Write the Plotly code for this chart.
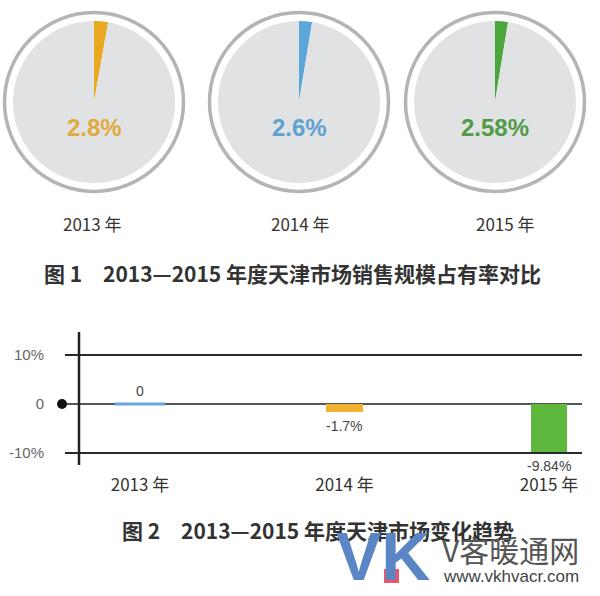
import plotly.graph_objects as go

# ---------------- data ----------------
years = ["2013 年", "2014 年", "2015 年"]
share = [2.8, 2.6, 2.58]                 # market share (%)
share_labels = ["2.8%", "2.6%", "2.58%"]
change = [0, -1.7, -9.84]                # yearly change (%)
change_labels = ["0", "-1.7%", "-9.84%"]
y_tickvals = [-10, 0, 10]
y_ticktext = ["-10%", "0", "10%"]
caption1_no = "图 1"
caption1 = "2013—2015 年度天津市场销售规模占有率对比"
caption2_no = "图 2"
caption2 = "2013—2015 年度天津市场变化趋势"

# ---------------- styles ----------------
W, H = 600, 596
slice_colors = ["#e8a920", "#5ba6d8", "#4ba63b"]
label_colors = ["#e2aa3c", "#5ea2d2", "#4f9b46"]
bar_colors = ["#6aa6dc", "#f0b232", "#5db83d"]
disc_color = "#e1e2e4"
ring_color = "#b4b4b4"
pie_cx = [94, 299, 495]
pie_cy = 102
pie_r = 81
ring_r = 89.5
cjk = "Noto Sans CJK SC"
cap_color = "#333333"


def px(x):
    return x / W


def py(y):
    return 1 - y / H


fig = go.Figure()

# ---------------- pies ----------------
for i in range(len(share)):
    cx = pie_cx[i]
    fig.add_trace(go.Pie(
        values=[share[i], 100 - share[i]],
        marker=dict(colors=[slice_colors[i], disc_color], line=dict(width=0)),
        sort=False, direction="clockwise", rotation=0,
        textinfo="none", hoverinfo="skip", showlegend=False,
        domain=dict(x=[px(cx - pie_r), px(cx + pie_r)],
                    y=[py(pie_cy + pie_r), py(pie_cy - pie_r)]),
    ))
    fig.add_shape(type="circle", xref="paper", yref="paper",
                  xsizemode="pixel", ysizemode="pixel",
                  xanchor=px(cx), yanchor=py(pie_cy),
                  x0=-ring_r, x1=ring_r, y0=-ring_r, y1=ring_r,
                  line=dict(color=ring_color, width=3.5), layer="below")
    fig.add_annotation(x=px(cx), y=py(pie_cy + 25), xref="paper", yref="paper",
                       text="<b>%s</b>" % share_labels[i], showarrow=False,
                       font=dict(family="Liberation Sans", size=24, color=label_colors[i]),
                       xanchor="center", yanchor="middle")

year_label_x = [92, 300, 505]
for i, yl in enumerate(years):
    fig.add_annotation(x=px(year_label_x[i]), y=py(223), xref="paper", yref="paper",
                       text=yl, showarrow=False,
                       font=dict(family=cjk, size=17, color="#333333"),
                       xanchor="center", yanchor="middle")

# captions
fig.add_annotation(x=px(42), y=py(273), xref="paper", yref="paper", text="<b>%s</b>" % caption1_no,
                   showarrow=False, xanchor="left", yanchor="middle",
                   font=dict(family=cjk, size=21, color=cap_color))
fig.add_annotation(x=px(101), y=py(273), xref="paper", yref="paper", text="<b>%s</b>" % caption1,
                   showarrow=False, xanchor="left", yanchor="middle",
                   font=dict(family=cjk, size=21, color=cap_color))

# ---------------- bar chart ----------------
fig.add_trace(go.Bar(x=years, y=change, marker=dict(color=bar_colors, line=dict(width=0)),
                     width=0.18, showlegend=False, hoverinfo="skip"))
zero_x = [years[i] for i, v in enumerate(change) if v == 0]
zero_y = [v for v in change if v == 0]
fig.add_trace(go.Scatter(x=zero_x, y=zero_y, mode="markers", showlegend=False,
                         hoverinfo="skip",
                         marker=dict(symbol="line-ew", size=36,
                                     line=dict(color=bar_colors[0], width=3))))

for i, v in enumerate(change):
    if v >= 0:
        fig.add_annotation(x=years[i], y=v, text=change_labels[i], showarrow=False,
                           yanchor="bottom", yshift=3,
                           font=dict(family="Liberation Sans", size=14, color="#444444"))
    else:
        fig.add_annotation(x=years[i], y=v, text=change_labels[i], showarrow=False,
                           yanchor="top", yshift=-4,
                           font=dict(family="Liberation Sans", size=14, color="#444444"))

x_left, x_right = 65, 582
unit = 204.5
x0_px = 140
fig.update_xaxes(domain=[px(x_left), px(x_right)],
                 range=[(x_left - x0_px) / unit, (x_right - x0_px) / unit],
                 showgrid=False, zeroline=False, showline=False, ticks="",
                 ticklabelstandoff=8,
                 tickfont=dict(family=cjk, size=17, color="#333333"))
y_top, y_bot, y_zero, px_per = 332, 465, 404, 4.9
fig.update_yaxes(domain=[py(y_bot), py(y_top)],
                 range=[-(y_bot - y_zero) / px_per, (y_zero - y_top) / px_per],
                 tickvals=y_tickvals, ticktext=y_ticktext,
                 showgrid=True, gridcolor="#2a2a2a", gridwidth=2.2,
                 zeroline=True, zerolinecolor="#555555", zerolinewidth=1.6,
                 showline=False, ticks="", ticklabelstandoff=20,
                 tickfont=dict(family="Liberation Sans", size=15, color="#666666"))

# vertical axis line and origin dot
fig.add_shape(type="line", xref="paper", yref="y domain", x0=px(79), x1=px(79), y0=0, y1=1,
              line=dict(color="#222222", width=2.5))
fig.add_shape(type="circle", xref="paper", yref="y", xsizemode="pixel", ysizemode="pixel",
              xanchor=px(62), yanchor=0, x0=-5, x1=5, y0=-5, y1=5,
              fillcolor="#111111", line=dict(width=0))

# caption 2
fig.add_annotation(x=px(120), y=py(530), xref="paper", yref="paper", text="<b>%s</b>" % caption2_no,
                   showarrow=False, xanchor="left", yanchor="middle",
                   font=dict(family=cjk, size=21, color=cap_color))
fig.add_annotation(x=px(179), y=py(530), xref="paper", yref="paper", text="<b>%s</b>" % caption2,
                   showarrow=False, xanchor="left", yanchor="middle",
                   font=dict(family=cjk, size=21, color=cap_color))

# watermark
fig.add_annotation(x=px(383), y=py(556), xref="paper", yref="paper", text="<b>VK</b>",
                   showarrow=False, xanchor="center", yanchor="middle",
                   font=dict(family="Liberation Sans", size=68, color="#5a86c6"))
fig.add_shape(type="rect", xref="paper", yref="paper",
              x0=px(384), x1=px(399), y0=py(583), y1=py(569),
              fillcolor="#e8586a", line=dict(width=0))
fig.add_annotation(x=px(581), y=py(549), xref="paper", yref="paper", text="V客暖通网",
                   showarrow=False, xanchor="right", yanchor="middle",
                   font=dict(family=cjk, size=30, color="#555555"))
fig.add_annotation(x=px(581), y=py(576), xref="paper", yref="paper", text="www.vkhvacr.com",
                   showarrow=False, xanchor="right", yanchor="middle",
                   font=dict(family="Liberation Sans", size=17, color="#444444"))

fig.update_layout(width=W, height=H, margin=dict(l=0, r=0, t=0, b=0),
                  paper_bgcolor="white", plot_bgcolor="white", showlegend=False,
                  bargap=0)

fig.write_html("out.html", config={"displayModeBar": False},
               post_script="document.body.style.margin='0';document.body.style.overflow='hidden';")
